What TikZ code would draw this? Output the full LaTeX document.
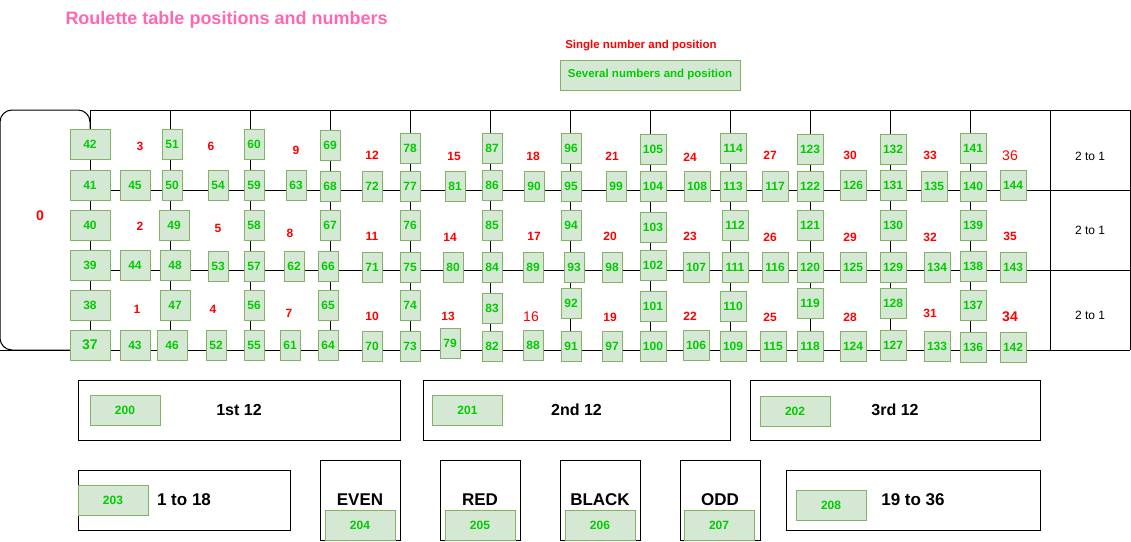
\documentclass[tikz,border=0pt]{standalone}
\usepackage{fontspec}
\setmainfont{Liberation Sans}
\definecolor{cellfill}{HTML}{D5E8D4}
\definecolor{cellline}{HTML}{82B366}
\definecolor{cellgreen}{HTML}{00CC00}
\definecolor{titlepink}{HTML}{FF66B3}
\definecolor{numred}{HTML}{FF0000}

\tikzstyle{cell}=[rectangle,draw=cellline,fill=cellfill,text=cellgreen,line width=1pt,minimum height=30pt,inner sep=0pt,font=\bfseries\fontsize{12}{14}\selectfont]
\tikzstyle{wcell}=[cell,minimum width=40pt]
\tikzstyle{mcell}=[cell,minimum width=30pt]
\tikzstyle{ncell}=[cell,minimum width=20pt]
\tikzstyle{tcell}=[cell,minimum width=26pt]
\tikzstyle{betcell}=[cell,minimum width=70pt]
\tikzstyle{redno}=[text=numred,inner sep=0pt,font=\bfseries\fontsize{12}{14}\selectfont]
\tikzstyle{frame}=[rectangle,draw,line width=1pt,inner sep=0pt,font=\bfseries\fontsize{16}{19}\selectfont]
\tikzstyle{twoone}=[inner sep=0pt,font=\fontsize{12}{14}\selectfont]

\begin{document}
\begin{tikzpicture}[x=1pt,y=-1pt,line width=1pt]
            \useasboundingbox (0,0) rectangle (1131,541);
            % legend
            \node (title) at (65,20) [anchor=west,text=titlepink,inner sep=0pt,font=\bfseries\fontsize{18}{21}\selectfont] {Roulette table positions and numbers};
            \node (single) at (641,46) [redno,font=\bfseries\fontsize{11.5}{13}\selectfont] {Single number and position};
            \node (several) at (650,75) [cell,minimum width=180pt,font=\bfseries\fontsize{11.5}{13}\selectfont] {Several numbers and position};
            % table lines
            \draw[rounded corners=12pt] (90,350) -- (0,350) -- (0,110) -- (90,110) -- (90,130);
            \draw (90,110) -- (1130,110);
            \draw (90,190) -- (1130,190);
            \draw (90,270) -- (1130,270);
            \draw (0,350) -- (1130,350);
            \draw (90,110) -- (90,350);
            \draw (170,110) -- (170,350);
            \draw (250,110) -- (250,350);
            \draw (330,110) -- (330,350);
            \draw (410,110) -- (410,350);
            \draw (490,110) -- (490,350);
            \draw (570,110) -- (570,350);
            \draw (650,110) -- (650,350);
            \draw (730,110) -- (730,350);
            \draw (810,110) -- (810,350);
            \draw (890,110) -- (890,350);
            \draw (970,110) -- (970,350);
            \draw (1050,110) -- (1050,350);
            \draw (1130,110) -- (1130,350);
            \node (col3) at (1090,156) [twoone] {2 to 1};
            \node (col2) at (1090,230) [twoone] {2 to 1};
            \node (col1) at (1090,315) [twoone] {2 to 1};
            % single numbers
            \node (r0) at (40,216) [redno,font=\bfseries\fontsize{14}{16}\selectfont] {0};
            \node (r3) at (140,146) [redno] {3};
            \node (r2) at (140,226) [redno] {2};
            \node (r1) at (137,309) [redno] {1};
            \node (r6) at (211,146) [redno] {6};
            \node (r5) at (218,228) [redno] {5};
            \node (r4) at (213,309) [redno] {4};
            \node (r9) at (296,150) [redno] {9};
            \node (r8) at (290,233) [redno] {8};
            \node (r7) at (289,313) [redno] {7};
            \node (r12) at (372,155) [redno] {12};
            \node (r11) at (372,236) [redno] {11};
            \node (r10) at (372,316) [redno] {10};
            \node (r15) at (454,156) [redno] {15};
            \node (r14) at (450,237) [redno] {14};
            \node (r13) at (448,316) [redno] {13};
            \node (r18) at (533,156) [redno] {18};
            \node (r17) at (534,236) [redno] {17};
            \node (r16) at (531,317) [redno,font=\fontsize{14}{16}\selectfont] {16};
            \node (r21) at (612,156) [redno] {21};
            \node (r20) at (610,236) [redno] {20};
            \node (r19) at (610,317) [redno] {19};
            \node (r24) at (690,157) [redno] {24};
            \node (r23) at (690,236) [redno] {23};
            \node (r22) at (690,316) [redno] {22};
            \node (r27) at (770,155) [redno] {27};
            \node (r26) at (770,237) [redno] {26};
            \node (r25) at (770,317) [redno] {25};
            \node (r30) at (850,155) [redno] {30};
            \node (r29) at (850,237) [redno] {29};
            \node (r28) at (850,317) [redno] {28};
            \node (r33) at (930,155) [redno] {33};
            \node (r32) at (930,237) [redno] {32};
            \node (r31) at (930,313) [redno] {31};
            \node (r36) at (1010,156) [redno,font=\fontsize{14}{16}\selectfont] {36};
            \node (r35) at (1010,236) [redno] {35};
            \node (r34) at (1010,317) [redno,font=\bfseries\fontsize{14}{16}\selectfont] {34};
            % positions
            \node (n42) at (90,144) [wcell] {42};
            \node (n41) at (90,185) [wcell] {41};
            \node (n40) at (90,225) [wcell] {40};
            \node (n39) at (90,265) [wcell] {39};
            \node (n38) at (90,305) [wcell] {38};
            \node (n37) at (90,345) [wcell,font=\bfseries\fontsize{14}{16}\selectfont] {37};
            \node (n45) at (135,185) [mcell] {45};
            \node (n44) at (135,265) [mcell] {44};
            \node (n43) at (135,345) [mcell] {43};
            \node (n51) at (172,144) [ncell] {51};
            \node (n50) at (172,185) [ncell] {50};
            \node (n49) at (174,225) [mcell] {49};
            \node (n48) at (175,265) [mcell] {48};
            \node (n47) at (175,305) [mcell] {47};
            \node (n46) at (172,345) [mcell] {46};
            \node (n54) at (218,185) [ncell] {54};
            \node (n53) at (218,266) [ncell] {53};
            \node (n52) at (216,345) [ncell] {52};
            \node (n60) at (254,144) [ncell] {60};
            \node (n59) at (254,185) [ncell] {59};
            \node (n58) at (254,225) [ncell] {58};
            \node (n57) at (254,266) [ncell] {57};
            \node (n56) at (254,305) [ncell] {56};
            \node (n55) at (254,345) [ncell] {55};
            \node (n63) at (296,185) [ncell] {63};
            \node (n62) at (294,266) [ncell] {62};
            \node (n61) at (290,345) [ncell] {61};
            \node (n69) at (330,145) [ncell] {69};
            \node (n68) at (330,186) [ncell] {68};
            \node (n67) at (330,225) [ncell] {67};
            \node (n66) at (328,266) [ncell] {66};
            \node (n65) at (328,305) [ncell] {65};
            \node (n64) at (328,345) [ncell] {64};
            \node (n72) at (372,186) [ncell] {72};
            \node (n71) at (372,267) [ncell] {71};
            \node (n70) at (372,346) [ncell] {70};
            \node (n78) at (410,148) [ncell] {78};
            \node (n77) at (410,186) [ncell] {77};
            \node (n76) at (410,225) [ncell] {76};
            \node (n75) at (410,267) [ncell] {75};
            \node (n74) at (410,305) [ncell] {74};
            \node (n73) at (410,346) [ncell] {73};
            \node (n81) at (455,186) [ncell] {81};
            \node (n80) at (453,267) [ncell] {80};
            \node (n79) at (450,343) [ncell] {79};
            \node (n87) at (492,148) [ncell] {87};
            \node (n86) at (492,185) [ncell] {86};
            \node (n85) at (492,225) [ncell] {85};
            \node (n84) at (492,267) [ncell] {84};
            \node (n83) at (492,308) [ncell] {83};
            \node (n82) at (492,346) [ncell] {82};
            \node (n90) at (534,186) [ncell] {90};
            \node (n89) at (533,267) [ncell] {89};
            \node (n88) at (533,345) [ncell] {88};
            \node (n96) at (571,148) [ncell] {96};
            \node (n95) at (571,186) [ncell] {95};
            \node (n94) at (571,225) [ncell] {94};
            \node (n93) at (574,267) [ncell] {93};
            \node (n92) at (571,303) [ncell] {92};
            \node (n91) at (571,346) [ncell] {91};
            \node (n99) at (616,186) [ncell] {99};
            \node (n98) at (612,267) [ncell] {98};
            \node (n97) at (612,346) [ncell] {97};
            \node (n105) at (653,149) [tcell] {105};
            \node (n104) at (653,186) [tcell] {104};
            \node (n103) at (653,227) [tcell] {103};
            \node (n102) at (653,265) [tcell] {102};
            \node (n101) at (653,306) [tcell] {101};
            \node (n100) at (653,346) [tcell] {100};
            \node (n108) at (697,186) [tcell] {108};
            \node (n107) at (696,267) [tcell] {107};
            \node (n106) at (696,345) [tcell] {106};
            \node (n114) at (733,148) [tcell] {114};
            \node (n113) at (733,186) [tcell] {113};
            \node (n112) at (735,225) [tcell] {112};
            \node (n111) at (735,267) [tcell] {111};
            \node (n110) at (733,306) [tcell] {110};
            \node (n109) at (733,346) [tcell] {109};
            \node (n117) at (775,186) [tcell] {117};
            \node (n116) at (775,267) [tcell] {116};
            \node (n115) at (773,346) [tcell] {115};
            \node (n123) at (810,149) [tcell] {123};
            \node (n122) at (810,186) [tcell] {122};
            \node (n121) at (810,225) [tcell] {121};
            \node (n120) at (810,267) [tcell] {120};
            \node (n119) at (810,303) [tcell] {119};
            \node (n118) at (810,346) [tcell] {118};
            \node (n126) at (853,185) [tcell] {126};
            \node (n125) at (853,267) [tcell] {125};
            \node (n124) at (853,346) [tcell] {124};
            \node (n132) at (893,149) [tcell] {132};
            \node (n131) at (893,185) [tcell] {131};
            \node (n130) at (893,225) [tcell] {130};
            \node (n129) at (893,267) [tcell] {129};
            \node (n128) at (893,303) [tcell] {128};
            \node (n127) at (893,345) [tcell] {127};
            \node (n135) at (934,186) [tcell] {135};
            \node (n134) at (937,267) [tcell] {134};
            \node (n133) at (937,346) [tcell] {133};
            \node (n141) at (973,148) [tcell] {141};
            \node (n140) at (973,186) [tcell] {140};
            \node (n139) at (973,225) [tcell] {139};
            \node (n138) at (973,266) [tcell] {138};
            \node (n137) at (973,305) [tcell] {137};
            \node (n136) at (973,347) [tcell] {136};
            \node (n144) at (1013,185) [tcell] {144};
            \node (n143) at (1013,267) [tcell] {143};
            \node (n142) at (1013,347) [tcell] {142};
            % outside bets
            \node (first) at (239,410) [frame,minimum width=322pt,minimum height=60pt] {1st 12};
            \node (second) at (576.5,410) [frame,minimum width=307pt,minimum height=60pt] {2nd 12};
            \node (third) at (895,410) [frame,minimum width=290pt,minimum height=60pt] {3rd 12};
            \node (low) at (184,500) [frame,minimum width=212pt,minimum height=60pt,font=\bfseries\fontsize{17}{20}\selectfont] {1 to 18};
            \node (even) at (360,500) [frame,minimum width=80pt,minimum height=80pt,font=\bfseries\fontsize{17}{20}\selectfont] {EVEN};
            \node (red) at (480,500) [frame,minimum width=80pt,minimum height=80pt,font=\bfseries\fontsize{17}{20}\selectfont] {RED};
            \node (black) at (600,500) [frame,minimum width=80pt,minimum height=80pt,font=\bfseries\fontsize{17}{20}\selectfont] {BLACK};
            \node (odd) at (720,500) [frame,minimum width=80pt,minimum height=80pt,font=\bfseries\fontsize{17}{20}\selectfont] {ODD};
            \node (high) at (913,500) [frame,minimum width=254pt,minimum height=60pt,font=\bfseries\fontsize{17}{20}\selectfont] {19 to 36};
            \node (n200) at (125,410) [betcell] {200};
            \node (n201) at (467.5,410) [betcell] {201};
            \node (n202) at (795,411) [betcell] {202};
            \node (n203) at (113,500) [betcell] {203};
            \node (n204) at (360,525) [betcell] {204};
            \node (n205) at (480,525) [betcell] {205};
            \node (n206) at (600,525) [betcell] {206};
            \node (n207) at (719,525) [betcell] {207};
            \node (n208) at (831,505) [betcell] {208};
        \end{tikzpicture}
\end{document}
